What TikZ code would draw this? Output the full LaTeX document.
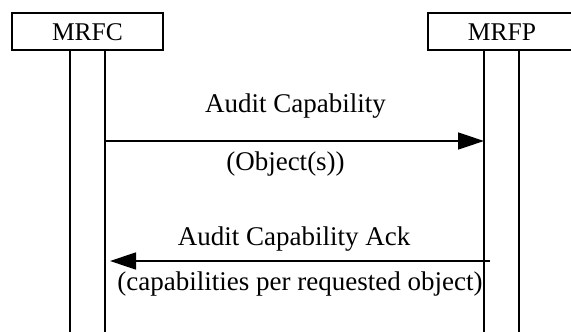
\documentclass[tikz,border=0pt]{standalone}
\usepackage{fontspec}
\setmainfont{Liberation Serif}
\usetikzlibrary{arrows.meta}
\begin{document}
\begin{tikzpicture}[x=1pt,y=-1pt,
  entity/.style={draw,line width=1.6pt,minimum width=151pt,minimum height=37pt,inner sep=0pt},
  lifeline/.style={line width=1.6pt},
  msg/.style={line width=1.4pt,-{Triangle[length=26pt,width=17pt]}},
  lbl/.style={anchor=base,inner sep=0pt,font=\fontsize{27}{32}\selectfont},
  ename/.style={anchor=base,inner sep=0pt,font=\fontsize{25.5}{30}\selectfont}]
\useasboundingbox (0,0) rectangle (571,332);
\clip (0,0) rectangle (571,332);
\fill[white] (0,0) rectangle (571,332);
% entity boxes
\node[entity] (mrfc) at (87.5,31.5) {};
\node[ename] (mrfct) at (87.5,40) {MRFC};
\node[entity] (mrfp) at (503.5,31.5) {};
\node[ename] (mrfpt) at (502,40) {MRFP};
% lifelines
\coordinate (c1t) at (70,50);  \coordinate (c1b) at (70,340);
\coordinate (c2t) at (105,50); \coordinate (c2b) at (105,340);
\coordinate (p1t) at (484,50); \coordinate (p1b) at (484,340);
\coordinate (p2t) at (519,50); \coordinate (p2b) at (519,340);
\draw[lifeline] (c1t) -- (c1b);
\draw[lifeline] (c2t) -- (c2b);
\draw[lifeline] (p1t) -- (p1b);
\draw[lifeline] (p2t) -- (p2b);
% messages
\coordinate (m1s) at (105,141); \coordinate (m1e) at (484,141);
\draw[msg] (m1s) -- (m1e);
\coordinate (m2s) at (490,261); \coordinate (m2e) at (110,261);
\draw[msg] (m2s) -- (m2e);
% labels
\node[lbl] (l1) at (295.5,112) {Audit Capability};
\node[lbl] (l2) at (285.5,170) {(Object(s))};
\node[lbl] (l3) at (294,245) {Audit Capability Ack};
\node[lbl] (l4) at (300,290) {(capabilities per requested object)};
\end{tikzpicture}
\end{document}
